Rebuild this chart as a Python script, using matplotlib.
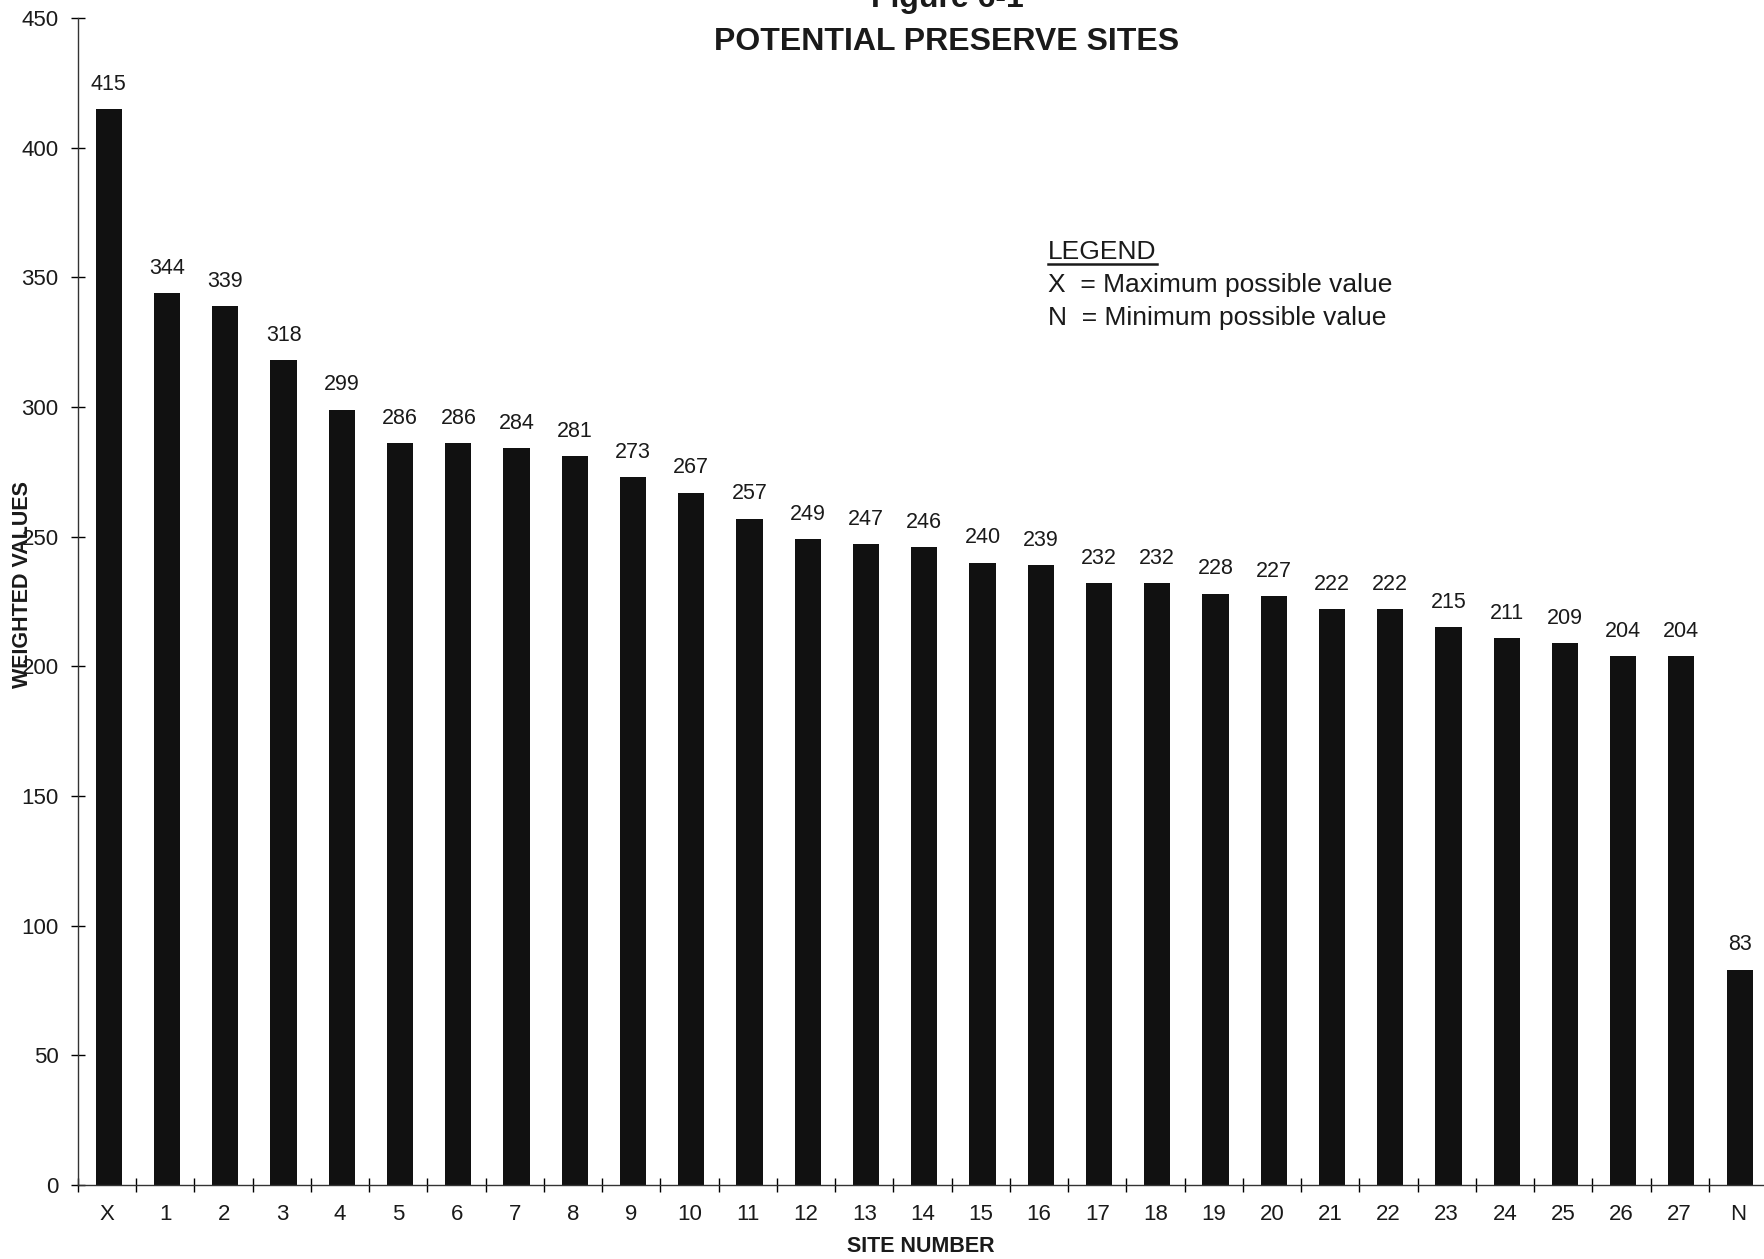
import matplotlib
matplotlib.use("Agg")
import matplotlib.pyplot as plt
import numpy as np

plt.rcParams['font.family'] = ['Liberation Sans', 'DejaVu Sans']

sites = ["X", "1", "2", "3", "4", "5", "6", "7", "8", "9", "10", "11", "12", "13",
         "14", "15", "16", "17", "18", "19", "20", "21", "22", "23", "24", "25",
         "26", "27", "N"]
values = [415, 344, 339, 318, 299, 286, 286, 284, 281, 273, 267, 257, 249, 247,
          246, 240, 239, 232, 232, 228, 227, 222, 222, 215, 211, 209, 204, 204, 83]
legend_lines = ["X  = Maximum possible value", "N  = Minimum possible value"]

W, H = 1764, 1259
ink = "#1a1a1a"
fig = plt.figure(figsize=(W / 100, H / 100), dpi=100)
ax = fig.add_axes([78 / W, 74 / H, (1767 - 78) / W, 1167 / H])

x = np.arange(len(sites))
ax.bar(x + 0.03, values, width=0.45, color="#111111")

for i, v in enumerate(values):
    ax.text(i + 0.03, v + 5.5, str(v), ha="center", va="bottom", fontsize=15.5, color=ink)

ax.set_xlim(-0.5, len(sites) - 0.5)
ax.set_ylim(0, 450)
ax.set_yticks(np.arange(0, 451, 50))
ax.set_xticks(x)
ax.set_xticklabels(sites)
ax.set_xticks(np.arange(-0.5, len(sites), 1), minor=True)
ax.tick_params(axis="x", which="major", length=0, pad=14, labelsize=16, labelcolor=ink)
ax.tick_params(axis="x", which="minor", direction="inout", length=10, width=1)
ax.tick_params(axis="y", direction="inout", length=10, width=1, pad=9, labelsize=16,
               labelcolor=ink)

for s in ["top", "right"]:
    ax.spines[s].set_visible(False)
for s in ["left", "bottom"]:
    ax.spines[s].set_linewidth(1)
    ax.spines[s].set_color("#333333")

# titles and axis labels
fig.text(947 / W, 1 - 7 / H, "Figure 6-1", ha="center", va="baseline",
         fontsize=23, fontweight="bold", color=ink)
fig.text(947 / W, 1 - 50 / H, "POTENTIAL PRESERVE SITES", ha="center", va="baseline",
         fontsize=23, fontweight="bold", color=ink)
fig.text(23 / W, 1 - 585 / H, "WEIGHTED VALUES", ha="center", va="center", rotation=90,
         fontsize=15.5, fontweight="bold", color=ink)
fig.text(921 / W, 1 - 1247 / H, "SITE NUMBER", ha="center", va="center",
         fontsize=15.5, fontweight="bold", color=ink)

# legend block
lg = fig.text(1048 / W, 1 - 259 / H, "LEGEND", ha="left", va="baseline",
              fontsize=19, color=ink)
fig.canvas.draw()
bb = lg.get_window_extent()
fig.add_artist(plt.Line2D([bb.x0 / W, bb.x1 / W], [(H - 264) / H, (H - 264) / H],
                          color=ink, linewidth=1.8))
for k, line in enumerate(legend_lines):
    fig.text(1048 / W, 1 - (292 + 33 * k) / H, line, ha="left", va="baseline",
             fontsize=19, color=ink)

fig.savefig("out.png", dpi=100)
